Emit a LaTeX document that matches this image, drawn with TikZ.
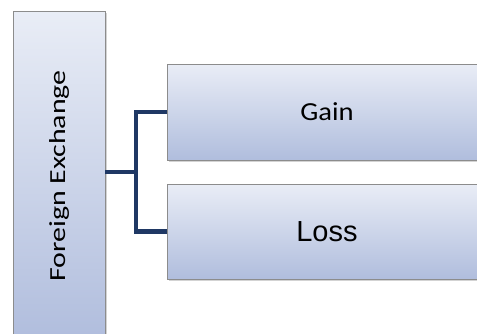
\documentclass[tikz,border=0pt]{standalone}
\usepackage{fontspec}
\setmainfont{Carlito}
\newfontfamily\lossfont{Liberation Sans}
\usetikzlibrary{shadows}
\definecolor{linkblue}{RGB}{31,56,100}
\definecolor{boxtop}{RGB}{233,237,246}
\definecolor{boxbot}{RGB}{176,189,221}
\tikzset{
	box/.style={draw=black!45, line width=0.8pt, top color=boxtop, bottom color=boxbot,
		drop shadow={shadow xshift=1.5pt, shadow yshift=-1.5pt, opacity=0.35}, inner sep=0pt},
	link/.style={linkblue, line width=4.5pt}
}
\begin{document}
\begin{tikzpicture}[x=1pt,y=-1pt]
			\clip (0,0) rectangle (477,333);
			\node[box, minimum width=92pt, minimum height=330pt] (fx) at (59,176)
				{\rotatebox{90}{\scalebox{1.3}[1]{\fontsize{23}{25}\selectfont Foreign Exchange}}};
			\node[box, minimum width=320pt, minimum height=96pt] (gain) at (327,112)
				{\scalebox{1.1}[1]{\fontsize{26}{28}\selectfont Gain}};
			\node[box, minimum width=320pt, minimum height=95pt] (loss) at (327,231.5)
				{\lossfont\fontsize{29}{31}\selectfont Loss};
			\coordinate (fork) at (136,172);
			\draw[link] (fx.east |- fork) -- (fork);
			\draw[link] (gain.west) -| (fork) |- (loss.west);
		\end{tikzpicture}
\end{document}
